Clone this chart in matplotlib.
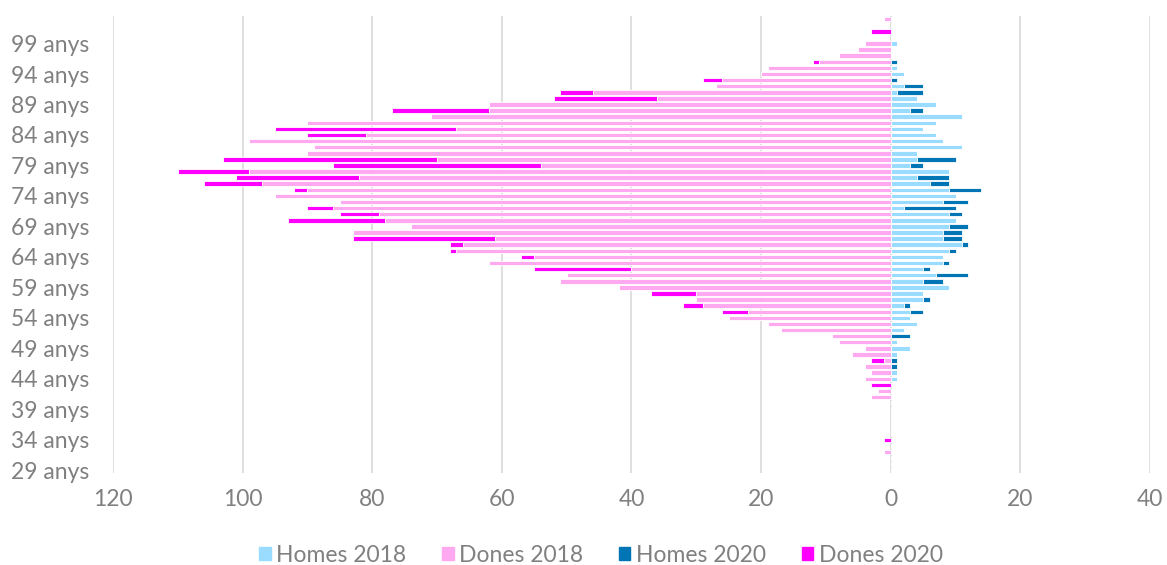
import numpy as np
import matplotlib
matplotlib.use("Agg")
import matplotlib.pyplot as plt
from matplotlib.patches import Patch

plt.rcParams['font.family'] = ['Lato', 'DejaVu Sans']

# Edats de 29 a 103 anys
edats = list(range(29, 104))

# Valors per edat (29 -> 103)
dones_2018 = [0, 0, 0, 1, 0, 0, 0, 0, 0, 0, 0, 0,      # 29-40
              3, 2, 0, 4, 3, 4, 1, 6, 4, 8,            # 41-50
              9, 17, 19, 25, 22, 29, 30, 30, 42, 51,   # 51-60
              50, 40, 62, 55, 67, 66, 61, 83, 74, 78,  # 61-70
              79, 86, 85, 95, 90, 97, 82, 99, 54, 70,  # 71-80
              90, 89, 99, 81, 67, 90, 71, 62, 62, 36,  # 81-90
              46, 27, 26, 20, 19, 11, 8, 5, 4, 0,      # 91-100
              0, 0, 1]                                 # 101-103
dones_2020 = [0, 0, 0, 0, 0, 1, 0, 0, 0, 0, 0, 0,      # 29-40
              0, 0, 3, 0, 0, 0, 2, 0, 0, 0,            # 41-50
              0, 0, 0, 0, 4, 3, 0, 7, 0, 0,            # 51-60
              0, 15, 0, 2, 1, 2, 22, 0, 0, 15,         # 61-70
              6, 4, 0, 0, 2, 9, 19, 11, 32, 33,        # 71-80
              0, 0, 0, 9, 28, 0, 0, 15, 0, 16,         # 81-90
              5, 0, 3, 0, 0, 1, 0, 0, 0, 0,            # 91-100
              3, 0, 0]                                 # 101-103
homes_2018 = [0, 0, 0, 0, 0, 0, 0, 0, 0, 0, 0, 0,      # 29-40
              0, 0, 0, 1, 1, 0, 0, 1, 3, 1,            # 41-50
              0, 2, 4, 3, 3, 2, 5, 5, 9, 5,            # 51-60
              7, 5, 8, 8, 9, 11, 8, 8, 9, 10,          # 61-70
              9, 2, 8, 10, 9, 6, 4, 9, 3, 4,           # 71-80
              4, 11, 8, 7, 5, 7, 11, 3, 7, 4,          # 81-90
              1, 2, 0, 2, 1, 0, 0, 0, 1, 0,            # 91-100
              0, 0, 0]                                 # 101-103
homes_2020 = [0, 0, 0, 0, 0, 0, 0, 0, 0, 0, 0, 0,      # 29-40
              0, 0, 0, 0, 0, 1, 1, 0, 0, 0,            # 41-50
              3, 0, 0, 0, 2, 1, 1, 0, 0, 3,            # 51-60
              5, 1, 1, 0, 1, 1, 3, 3, 3, 0,            # 61-70
              2, 8, 4, 0, 5, 3, 5, 0, 2, 6,            # 71-80
              0, 0, 0, 0, 0, 0, 0, 2, 0, 0,            # 81-90
              4, 3, 1, 0, 0, 1, 0, 0, 0, 0,            # 91-100
              0, 0, 0]                                 # 101-103

etiquetes_y = [f"{e} anys" for e in range(29, 100, 5)]
ticks_x = [-120, -100, -80, -60, -40, -20, 0, 20, 40]

c_h18 = "#99dcff"
c_d18 = "#ffaaf0"
c_h20 = "#0075b5"
c_d20 = "#ff00ff"
gris = "#808080"

d18 = -np.array(dones_2018)
d20 = -np.array(dones_2020)
h18 = np.array(homes_2018)
h20 = np.array(homes_2020)

fig = plt.figure(figsize=(11.67, 5.65), dpi=100)
ax = fig.add_axes([0.0968, 0.1623, 0.8886, 0.8092])

alt = 0.74
kw = dict(height=alt, edgecolor="white", linewidth=0.6)
ax.barh(edats, h18, color=c_h18, **kw)
ax.barh(edats, d18, color=c_d18, **kw)
ax.barh(edats, h20, left=h18, color=c_h20, **kw)
ax.barh(edats, d20, left=d18, color=c_d20, **kw)

ax.set_xlim(-120, 40)
ax.set_ylim(28.5, 103.5)
ax.set_xticks(ticks_x)
ax.set_xticklabels([str(abs(t)) for t in ticks_x])
ax.set_yticks(list(range(29, 100, 5)))
ax.set_yticklabels(etiquetes_y)

ax.grid(axis="x", color="#d9d9d9", linewidth=1.2)
ax.set_axisbelow(True)
for s in ax.spines.values():
    s.set_visible(False)
ax.tick_params(axis="both", length=0, labelsize=16.5, labelcolor=gris)
ax.tick_params(axis="y", pad=17)
ax.tick_params(axis="x", pad=11)

handles = [Patch(color=c_h18, label="Homes 2018"),
           Patch(color=c_d18, label="Dones 2018"),
           Patch(color=c_h20, label="Homes 2020"),
           Patch(color=c_d20, label="Dones 2020")]
fig.legend(handles=handles, loc="center", bbox_to_anchor=(0.515, 0.017), ncol=4,
           frameon=False, fontsize=16.5, labelcolor=gris, handlelength=0.5,
           handleheight=0.5, handletextpad=0.25, columnspacing=1.55)

fig.savefig("out.png", dpi=100)
